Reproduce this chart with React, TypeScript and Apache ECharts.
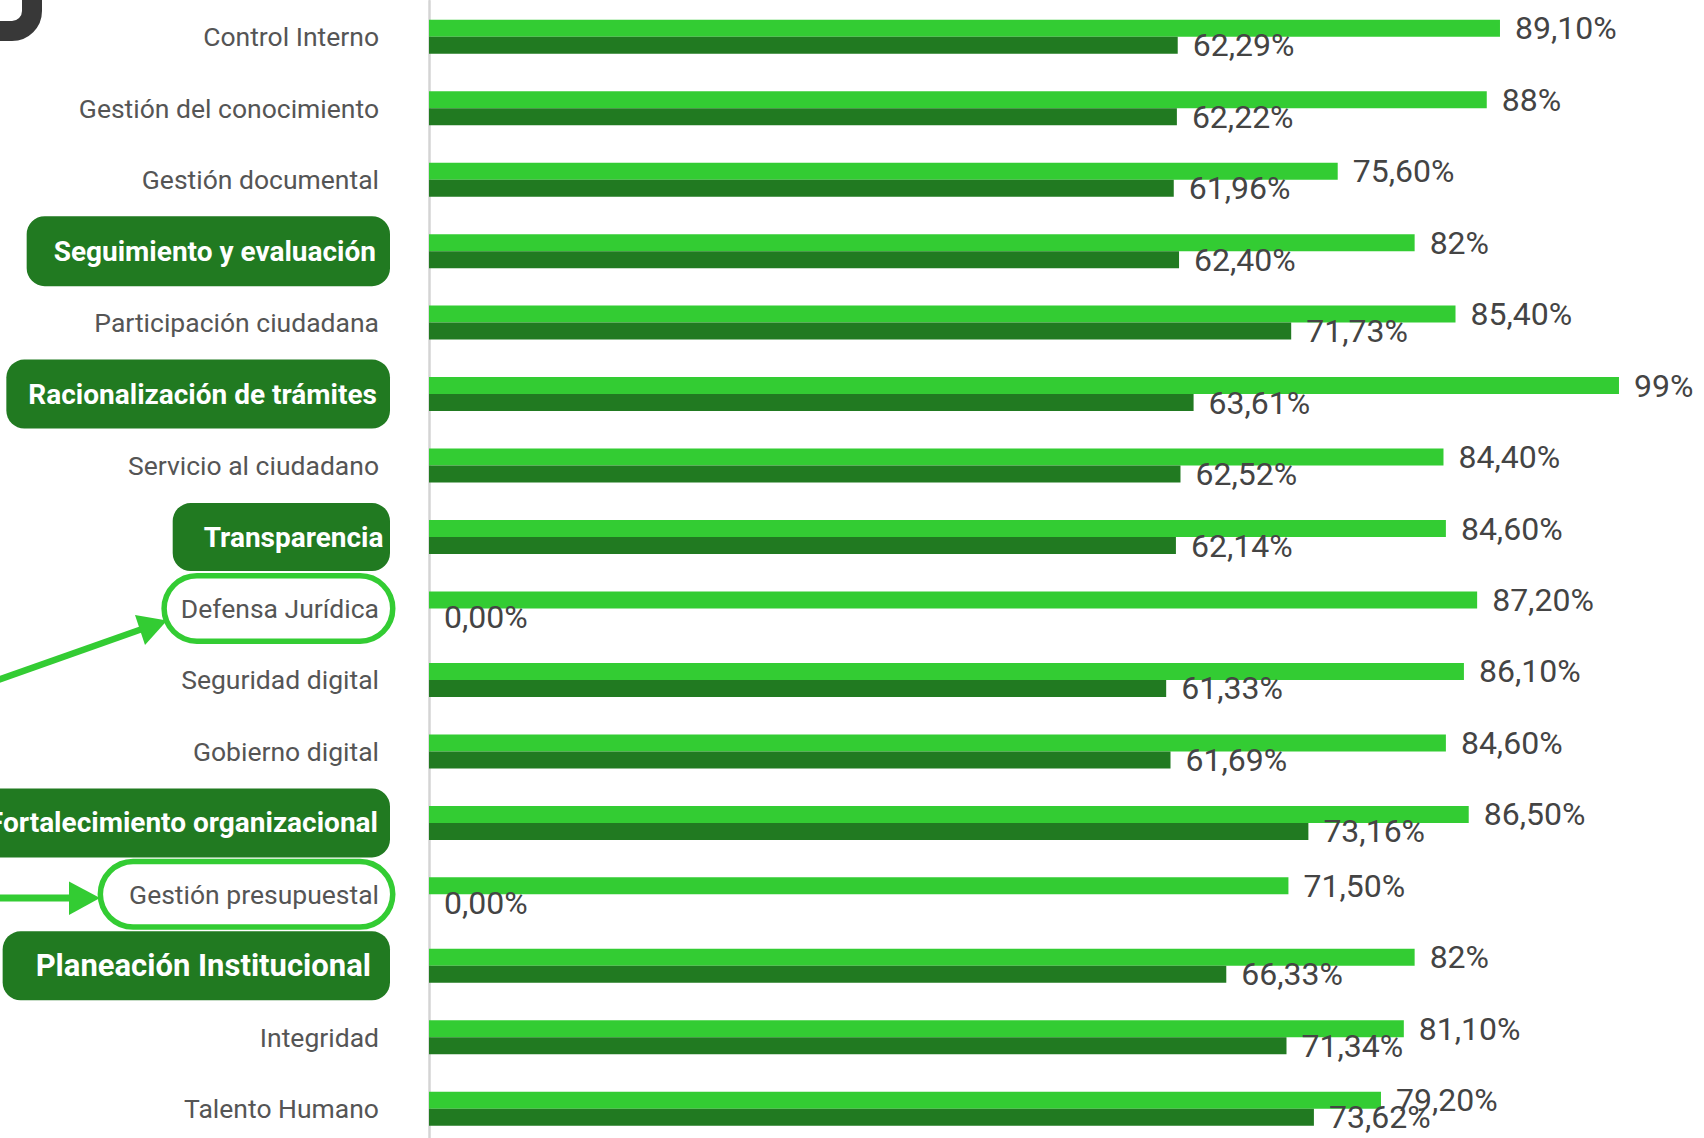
import React, { useEffect, useRef } from "react";
import * as echarts from "echarts";

const categories = [
  "Control Interno",
  "Gestión del conocimiento",
  "Gestión documental",
  "Seguimiento y evaluación",
  "Participación ciudadana",
  "Racionalización de trámites",
  "Servicio al ciudadano",
  "Transparencia",
  "Defensa Jurídica",
  "Seguridad digital",
  "Gobierno digital",
  "Fortalecimiento organizacional",
  "Gestión presupuestal",
  "Planeación Institucional",
  "Integridad",
  "Talento Humano",
];

const lightValues = [89.1, 88, 75.6, 82, 85.4, 99, 84.4, 84.6, 87.2, 86.1, 84.6, 86.5, 71.5, 82, 81.1, 79.2];
const darkValues = [62.29, 62.22, 61.96, 62.4, 71.73, 63.61, 62.52, 62.14, 0, 61.33, 61.69, 73.16, 0, 66.33, 71.34, 73.62];

const filledCategories = [
  "Seguimiento y evaluación",
  "Racionalización de trámites",
  "Transparencia",
  "Fortalecimiento organizacional",
  "Planeación Institucional",
];
const outlinedCategories = ["Defensa Jurídica", "Gestión presupuestal"];
// [top, right, bottom, left] padding and font size of each highlighted label box
const boxPadding: Record<string, number[]> = {
  "Seguimiento y evaluación": [17, 14, 17, 27],
  "Racionalización de trámites": [16.5, 13, 16.5, 22],
  Transparencia: [16, 6.5, 16, 31],
  "Fortalecimiento organizacional": [16.5, 12, 16.5, 30],
  "Planeación Institucional": [16.5, 19, 16.5, 33],
  "Defensa Jurídica": [12, 11, 12, 14],
  "Gestión presupuestal": [12, 11, 12, 26],
};
const boxFontSize: Record<string, number> = {
  "Seguimiento y evaluación": 28,
  "Racionalización de trámites": 28,
  Transparencia: 28,
  "Fortalecimiento organizacional": 28,
  "Planeación Institucional": 31,
};

const LIGHT = "#33cc33";
const DARK = "#217a21";
const FONT = "Roboto, 'Noto Sans', sans-serif";

const fmtLight = (v: number) =>
  Number.isInteger(v) ? `${v}%` : `${v.toFixed(2).replace(".", ",")}%`;
const fmtDark = (v: number) => `${v.toFixed(2).replace(".", ",")}%`;

export default function App() {
  const ref = useRef<HTMLDivElement>(null);

  useEffect(() => {
    if (!ref.current) return;
    const chart = echarts.init(ref.current, undefined, { renderer: "svg" });

    const yData = categories.map((name) => {
      if (filledCategories.includes(name)) {
        return {
          value: name,
          textStyle: {
            color: "#ffffff",
            fontWeight: "bold",
            fontSize: boxFontSize[name],
            backgroundColor: DARK,
            borderRadius: 18,
            padding: boxPadding[name],
            lineHeight: 36,
          },
        };
      }
      if (outlinedCategories.includes(name)) {
        return {
          value: name,
          textStyle: {
            color: "#555555",
            backgroundColor: "#ffffff",
            borderColor: LIGHT,
            borderWidth: 5.5,
            borderRadius: 30,
            padding: boxPadding[name],
            lineHeight: 36,
          },
        };
      }
      return name;
    });

    const option: any = {
      animation: false,
      backgroundColor: "#ffffff",
      grid: {
        left: 429,
        width: 1202,
        top: 1,
        height: 1143.5,
        containLabel: false,
        outerBoundsMode: "none",
      },
      xAxis: {
        type: "value",
        min: 0,
        max: 100,
        show: false,
      },
      yAxis: {
        type: "category",
        inverse: true,
        data: yData,
        offset: 2,
        axisTick: { show: false },
        axisLine: { show: true, lineStyle: { color: "#d4d4d4", width: 2.5 } },
        axisLabel: {
          margin: 37,
          fontSize: 26.5,
          color: "#555555",
          fontFamily: FONT,
          padding: [0, 11, 0, 0],
          lineHeight: 36,
        },
      },
      series: [
        {
          type: "bar",
          data: lightValues,
          barWidth: 17,
          barGap: "0%",
          itemStyle: { color: LIGHT },
          label: {
            show: true,
            position: "right",
            distance: 15,
            fontSize: 32,
            color: "#444444",
            fontFamily: FONT,
            formatter: (p: any) => fmtLight(p.value),
          },
        },
        {
          type: "bar",
          data: darkValues,
          barWidth: 17,
          barGap: "0%",
          itemStyle: { color: DARK },
          label: {
            show: true,
            position: "right",
            distance: 15,
            fontSize: 32,
            color: "#444444",
            fontFamily: FONT,
            formatter: (p: any) => fmtDark(p.value),
          },
        },
      ],
      graphic: [
        {
          type: "group",
          silent: true,
          children: [
            { type: "line", shape: { x1: 32, y1: 0, x2: 32, y2: 11 }, style: { stroke: "#383838", lineWidth: 20 } },
            {
              type: "arc",
              shape: { cx: 12, cy: 11, r: 20, startAngle: 0, endAngle: Math.PI / 2, clockwise: true },
              style: { stroke: "#383838", lineWidth: 20, fill: "none" },
            },
            { type: "line", shape: { x1: 12, y1: 31, x2: 0, y2: 31 }, style: { stroke: "#383838", lineWidth: 20 } },
            // arrow to Defensa Jurídica
            { type: "line", shape: { x1: -2, y1: 680, x2: 145, y2: 628 }, style: { stroke: LIGHT, lineWidth: 6.5 } },
            {
              type: "polygon",
              shape: { points: [[167, 620.5], [135, 615], [145, 645]] },
              style: { fill: LIGHT },
            },
            // arrow to Gestión presupuestal
            { type: "line", shape: { x1: 0, y1: 898, x2: 72, y2: 898 }, style: { stroke: LIGHT, lineWidth: 7 } },
            {
              type: "polygon",
              shape: { points: [[100, 898], [69, 881.5], [69, 915]] },
              style: { fill: LIGHT },
            },
          ],
        },
      ],
    };

    chart.setOption(option);
    return () => chart.dispose();
  }, []);

  return (
    <div
      ref={ref}
      style={{ position: "absolute", left: 0, top: 0, width: 1704, height: 1138, overflow: "hidden" }}
    />
  );
}
